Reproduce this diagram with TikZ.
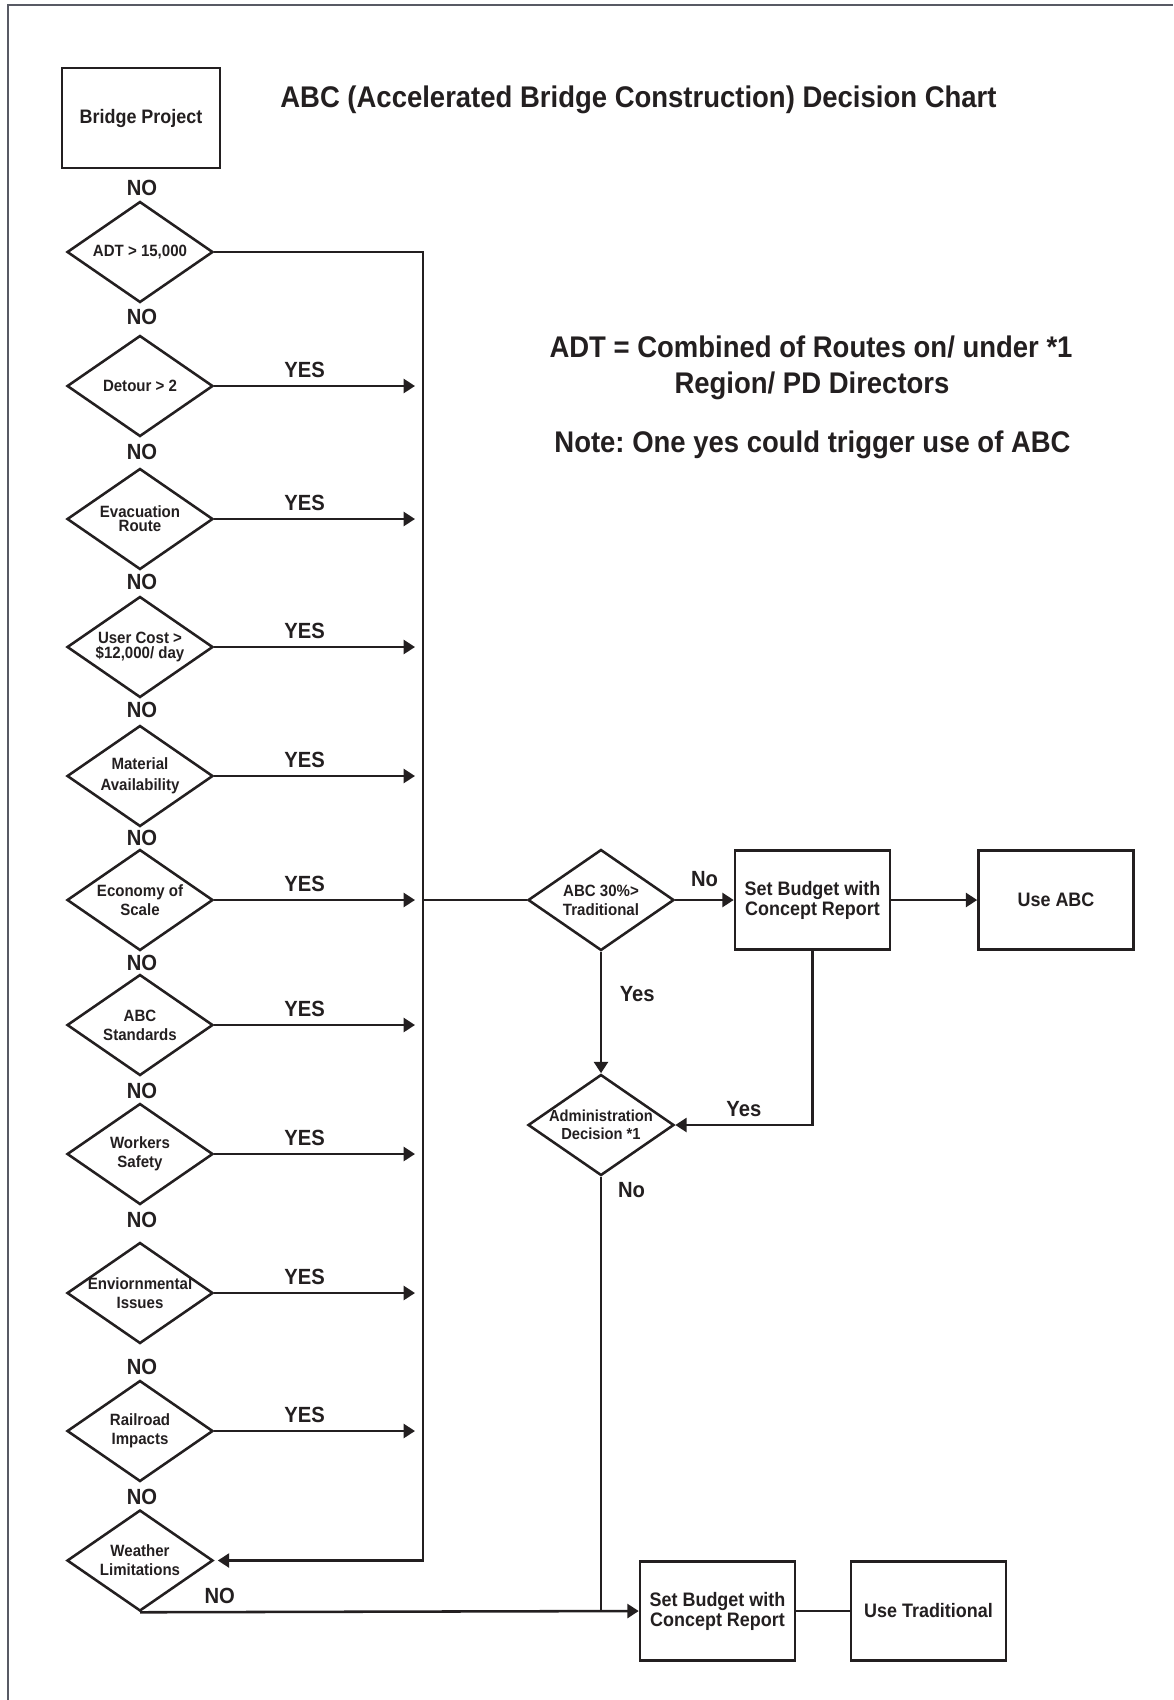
\documentclass[tikz,border=0pt]{standalone}
\usepackage{fontspec}
\setmainfont[FakeStretch=0.92]{Liberation Sans}
\usetikzlibrary{shapes.geometric,arrows.meta}
\definecolor{ink}{RGB}{35,31,32}
\definecolor{framegray}{RGB}{88,90,100}
\frenchspacing

\begin{document}
\begin{tikzpicture}[
  dia/.style={diamond, draw=ink, line width=1.45pt, minimum width=2.92cm, minimum height=2.02cm, shape aspect=1.45, inner xsep=-6pt, inner ysep=0pt, align=center, text=ink, font=\fontsize{9.3}{10.8}\selectfont\bfseries},
  box/.style={rectangle, draw=ink, line width=1.45pt, minimum width=3.1cm, minimum height=1.98cm, align=center, text=ink, font=\fontsize{11.1}{11.4}\selectfont\bfseries},
  ans/.style={text=ink, inner sep=0pt, font=\fontsize{12.5}{14}\selectfont\bfseries},
  note/.style={text=ink, inner sep=0pt, font=\fontsize{17}{20}\selectfont\bfseries},
  link/.style={draw=ink, line width=1.45pt},
  arr/.style={link, -{Triangle[length=6.5pt,width=8pt]}}
]
\useasboundingbox (0,0) rectangle (23.46,-34);
\draw [framegray, line width=1.6pt] (0.16,-34) |- (23.46,-0.10);

% headings
\node (title) [note, anchor=base west] at (5.60,-2.14) {ABC (Accelerated Bridge Construction) Decision Chart};
\node (note1) [note, anchor=base] at (16.22,-7.14) {ADT = Combined of Routes on/ under *1};
\node (note2) [note, anchor=base] at (16.24,-7.86) {Region/ PD Directors};
\node (note3) [note, anchor=base] at (16.25,-9.04) {Note: One yes could trigger use of ABC};

% left column
\node (bridge) [box, minimum width=3.16cm, minimum height=2cm] at (2.82,-2.36) {Bridge Project};
\node (adt) [dia] at (2.80,-5.04) {ADT > 15,000};
\node (detour) [dia] at (2.80,-7.72) {Detour > 2};
\node (evac) [dia, font=\fontsize{9.3}{8}\selectfont\bfseries] at (2.80,-10.38) {Evacuation\\Route};
\node (cost) [dia, font=\fontsize{9.3}{8}\selectfont\bfseries] at (2.80,-12.94) {User Cost >\\\$12,000/ day};
\node (material) [dia, font=\fontsize{9.3}{11.8}\selectfont\bfseries] at (2.80,-15.52) {Material\\Availability};
\node (economy) [dia] at (2.80,-18.00) {Economy of\\Scale};
\node (standards) [dia] at (2.80,-20.50) {ABC\\Standards};
\node (safety) [dia] at (2.80,-23.08) {Workers\\Safety};
\node (environ) [dia] at (2.80,-25.86) {Enviornmental\\Issues};
\node (railroad) [dia] at (2.80,-28.62) {Railroad\\Impacts};
\node (weather) [dia] at (2.80,-31.21) {Weather\\Limitations};

\node (no1) [ans] at (2.84,-3.76) {NO};
\node (no2) [ans] at (2.84,-6.34) {NO};
\node (no3) [ans] at (2.84,-9.04) {NO};
\node (no4) [ans] at (2.84,-11.64) {NO};
\node (no5) [ans] at (2.84,-14.20) {NO};
\node (no6) [ans] at (2.84,-16.76) {NO};
\node (no7) [ans] at (2.84,-19.26) {NO};
\node (no8) [ans] at (2.84,-21.82) {NO};
\node (no9) [ans] at (2.84,-24.40) {NO};
\node (no10) [ans] at (2.84,-27.34) {NO};
\node (no11) [ans] at (2.84,-29.94) {NO};

% right side
\node (compare) [dia] at (12.02,-18.00) {ABC 30\%>\\Traditional};
\node (admin) [dia, font=\fontsize{9.1}{10.5}\selectfont\bfseries] at (12.02,-22.50) {Administration\\Decision *1};
\node (budgetabc) [box] at (16.25,-18.00) {Set Budget with\\Concept Report};
\node (useabc) [box] at (21.12,-18.00) {Use ABC};
\node (budgettrad) [box] at (14.35,-32.22) {Set Budget with\\Concept Report};
\node (usetrad) [box] at (18.57,-32.22) {Use Traditional};

\coordinate (tip) at (8.30,0);
\coordinate (bus) at (8.46,0);

% yes branches
\draw [arr] (detour.east) -- (detour.east -| tip) node (yes2) [ans, pos=0.45, above=4pt] {YES};
\draw [arr] (evac.east) -- (evac.east -| tip) node (yes3) [ans, pos=0.45, above=4pt] {YES};
\draw [arr] (cost.east) -- (cost.east -| tip) node (yes4) [ans, pos=0.45, above=4pt] {YES};
\draw [arr] (material.east) -- (material.east -| tip) node (yes5) [ans, pos=0.45, above=4pt] {YES};
\draw [arr] (economy.east) -- (economy.east -| tip) node (yes6) [ans, pos=0.45, above=4pt] {YES};
\draw [arr] (standards.east) -- (standards.east -| tip) node (yes7) [ans, pos=0.45, above=4pt] {YES};
\draw [arr] (safety.east) -- (safety.east -| tip) node (yes8) [ans, pos=0.45, above=4pt] {YES};
\draw [arr] (environ.east) -- (environ.east -| tip) node (yes9) [ans, pos=0.45, above=4pt] {YES};
\draw [arr] (railroad.east) -- (railroad.east -| tip) node (yes10) [ans, pos=0.45, above=4pt] {YES};

\draw [arr, shorten >=2pt] (adt.east) -| (bus |- weather.east) -- (weather.east);
\draw [link] (bus |- compare.west) -- (compare.west);

\draw [arr] (compare.east) -- (budgetabc.west) node (no12) [ans, pos=0.5, above=7pt] {No};
\draw [arr] (budgetabc.east) -- (useabc.west);
\draw [arr] (compare.south) -- (admin.north) node (yes11) [ans, pos=0.35, right=10pt] {Yes};
\draw [arr] (budgetabc.south) |- (admin.east) node (yes12) [ans, pos=0.75, above=4pt] {Yes};
\draw [link] (admin.south) -- (admin.south |- budgettrad.west) node (no13) [ans, pos=0.03, right=9pt] {No};
\draw [arr] (weather.south) -- (budgettrad.west) node (no14) [ans, pos=0.16, above=4pt] {NO};
\draw [link] (budgettrad.east) -- (usetrad.west);
\end{tikzpicture}
\end{document}
